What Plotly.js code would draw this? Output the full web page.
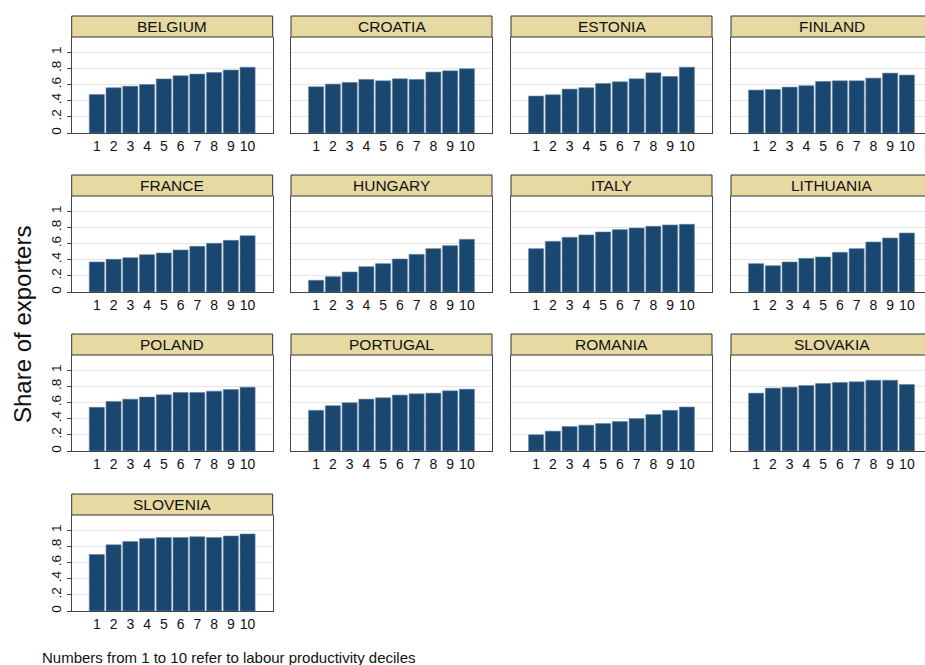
<!DOCTYPE html>
<html>
<head>
<meta charset="utf-8">
<script src="https://cdn.plot.ly/plotly-3.0.1.min.js"></script>
<style>
html, body { margin:0; padding:0; overflow:hidden; background:#fff; }
#chart { width:935px; height:665px; }
</style>
</head>
<body>
<div id="chart"></div>
<script>
// ---- data ----
const deciles = [1, 2, 3, 4, 5, 6, 7, 8, 9, 10];
const countries = ["BELGIUM", "CROATIA", "ESTONIA", "FINLAND", "FRANCE", "HUNGARY", "ITALY",
                   "LITHUANIA", "POLAND", "PORTUGAL", "ROMANIA", "SLOVAKIA", "SLOVENIA"];
const belgium   = [0.477, 0.560, 0.580, 0.600, 0.670, 0.710, 0.730, 0.750, 0.780, 0.815];
const croatia   = [0.573, 0.606, 0.627, 0.664, 0.647, 0.672, 0.664, 0.755, 0.771, 0.796];
const estonia   = [0.458, 0.474, 0.544, 0.561, 0.614, 0.635, 0.672, 0.746, 0.701, 0.816];
const finland   = [0.532, 0.540, 0.569, 0.586, 0.639, 0.647, 0.647, 0.680, 0.742, 0.718];
const france    = [0.372, 0.405, 0.426, 0.463, 0.483, 0.521, 0.566, 0.603, 0.640, 0.698];
const hungary   = [0.145, 0.190, 0.248, 0.314, 0.351, 0.409, 0.467, 0.537, 0.574, 0.653];
const italy     = [0.537, 0.628, 0.678, 0.707, 0.744, 0.773, 0.793, 0.814, 0.831, 0.839];
const lithuania = [0.351, 0.326, 0.372, 0.417, 0.434, 0.492, 0.537, 0.620, 0.669, 0.731];
const poland    = [0.541, 0.615, 0.643, 0.668, 0.697, 0.725, 0.725, 0.742, 0.762, 0.791];
const portugal  = [0.504, 0.561, 0.598, 0.643, 0.660, 0.693, 0.709, 0.717, 0.746, 0.766];
const romania   = [0.201, 0.246, 0.303, 0.320, 0.340, 0.365, 0.402, 0.451, 0.504, 0.545];
const slovakia  = [0.717, 0.779, 0.791, 0.811, 0.836, 0.848, 0.857, 0.877, 0.877, 0.824];
const slovenia  = [0.700, 0.820, 0.860, 0.900, 0.910, 0.910, 0.920, 0.910, 0.930, 0.955];
const yTickVals = [0, 0.2, 0.4, 0.6, 0.8, 1];
const yTickText = ["0", ".2", ".4", ".6", ".8", "1"];
const yTitle = "Share of exporters";
const note = "Numbers from 1 to 10 refer to labour productivity deciles";

const series = [belgium, croatia, estonia, finland, france, hungary, italy,
                lithuania, poland, portugal, romania, slovakia, slovenia];

// ---- layout geometry (pixels) ----
const W = 935, H = 665;
const colLeft = [71.7, 291, 511, 731];
const pw = 201;
const headTop = [16, 175, 334, 494];
const hh = 21;
const ph = 96;
const FONT = "Arial, 'Liberation Sans', sans-serif";
const BAR = "#1a476f";
const HEAD = "#e6d9a2";

const data = [];
const layout = {
  width: W, height: H,
  margin: {l: 0, r: 0, t: 0, b: 0},
  paper_bgcolor: "#fff", plot_bgcolor: "#fff",
  showlegend: false,
  font: {family: FONT, color: "#111", size: 13},
  shapes: [], annotations: []
};

countries.forEach((name, i) => {
  const r = Math.floor(i / 4), c = i % 4;
  const n = i === 0 ? "" : String(i + 1);
  const x0 = colLeft[c], x1 = colLeft[c] + pw;
  const hb = headTop[r] + hh;
  data.push({
    type: "bar", x: deciles, y: series[i],
    xaxis: "x" + n, yaxis: "y" + n,
    width: 0.9,
    marker: {color: BAR, line: {color: "#5f7f9e", width: 0.6}},
    hoverinfo: "x+y"
  });
  layout["xaxis" + n] = {
    domain: [x0 / W, x1 / W], anchor: "y" + n,
    range: [-0.5, 11.5], tickvals: deciles, ticktext: deciles.map(String),
    showgrid: false, zeroline: false, showline: true, linecolor: "#444", linewidth: 1,
    ticks: "", ticklen: 0, tickfont: {size: 14, family: FONT, color: "#111"},
    fixedrange: true
  };
  layout["yaxis" + n] = {
    domain: [1 - (hb + ph) / H, 1 - hb / H], anchor: "x" + n,
    range: [0, 1.19], tickvals: yTickVals, ticktext: yTickText,
    showgrid: true, gridcolor: "#e6e6e6", gridwidth: 1, zeroline: false,
    showline: true, mirror: true, linecolor: "#444", linewidth: 1,
    showticklabels: c === 0, ticks: c === 0 ? "outside" : "", ticklen: 4, tickcolor: "#444",
    tickangle: -90, tickfont: {size: 13.5, family: FONT, color: "#111"},
    fixedrange: true
  };
  layout.shapes.push({
    type: "rect", xref: "paper", yref: "paper",
    x0: x0 / W, x1: x1 / W, y0: 1 - hb / H, y1: 1 - headTop[r] / H,
    fillcolor: HEAD, line: {color: "#333", width: 1}, layer: "above"
  });
  layout.annotations.push({
    xref: "paper", yref: "paper",
    x: (x0 + pw / 2) / W, y: 1 - (headTop[r] + hh / 2) / H,
    xanchor: "center", yanchor: "middle", showarrow: false,
    text: name, font: {size: 15.5, family: FONT, color: "#111"}
  });
});

layout.annotations.push({
  xref: "paper", yref: "paper", x: 22 / W, y: 1 - 325 / H,
  xanchor: "center", yanchor: "middle", showarrow: false, textangle: -90,
  text: yTitle, font: {size: 24, family: FONT, color: "#111"}
});
layout.annotations.push({
  xref: "paper", yref: "paper", x: 40 / W, y: 1 - 657 / H,
  xanchor: "left", yanchor: "middle", showarrow: false,
  text: note, font: {size: 15, family: FONT, color: "#111"}
});

Plotly.newPlot("chart", data, layout, {displayModeBar: false, staticPlot: true});
</script>
</body>
</html>
